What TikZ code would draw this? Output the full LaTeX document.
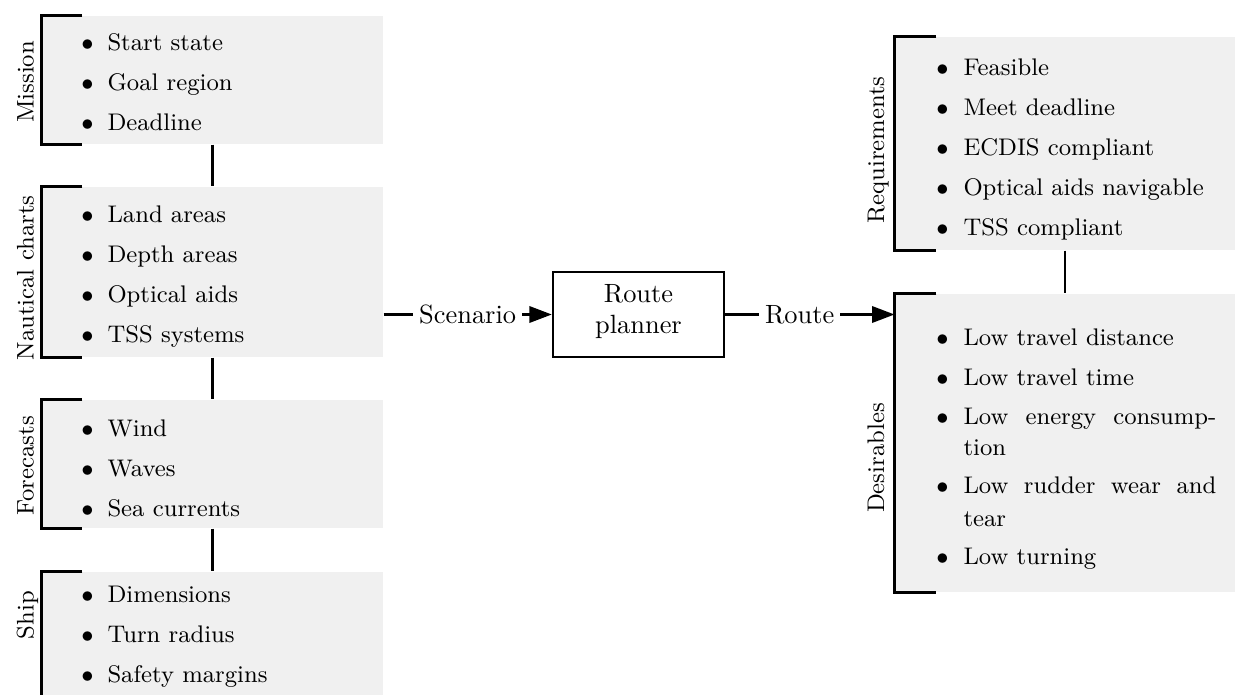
\documentclass[tikz,border=0pt]{standalone}
\usetikzlibrary{arrows.meta,fit,calc}
\definecolor{boxgray}{gray}{0.94}
\begin{document}
\begin{tikzpicture}[x=0.3788pt,y=-0.3788pt,
  box/.style={fill=boxgray, inner sep=0pt, draw=none},
  brk/.style={line width=0.9pt},
  conn/.style={line width=0.9pt},
  arr/.style={line width=0.9pt,-{Triangle[length=8.5pt,width=6.2pt]}},
  side/.style={rotate=90, anchor=base, inner sep=0pt, font=\fontsize{9.1}{12}\selectfont},
  itm/.style={anchor=base west, inner sep=0pt, font=\fontsize{9.1}{12}\selectfont},
  bul/.style={anchor=base, inner sep=0pt, font=\fontsize{9.1}{12}\selectfont},
  plannerbox/.style={draw, line width=0.9pt, minimum width=64.8pt, minimum height=32.2pt, inner sep=0pt},
  ptext/.style={align=center, inner sep=0pt, font=\fontsize{10}{12}\selectfont},
  lbl/.style={fill=white, inner sep=2.3pt, font=\fontsize{10}{12}\selectfont}
]
\useasboundingbox (0,0) rectangle (1235,695);

% ---- left column boxes
\node[box, fit={(42,16) (383,144)}] (mission) {};
\node[box, fit={(42,187) (383,357)}] (naut) {};
\node[box, fit={(42,400) (383,528)}] (fore) {};
\node[box, fit={(42,572) (383,700)}] (ship) {};

% ---- right column boxes
\node[box, fit={(895,37) (1235,250)}] (req) {};
\node[box, fit={(895,294) (1235,592)}] (des) {};

% ---- brackets
\foreach \b in {mission,naut,fore,ship}{
  \draw[brk] ($(\b.north west)+(41,0)$) -- (\b.north west) -- (\b.south west) -- +(41,0);
}
\foreach \b in {req,des}{
  \draw[brk] ($(\b.north west)+(42,0)$) -- (\b.north west) -- (\b.south west) -- +(42,0);
}

% ---- side labels
\node[side] (lmission) at (33.5,82) {Mission};
\node[side] (lnaut) at (33.5,278) {Nautical charts};
\node[side] (lfore) at (33.5,466) {Forecasts};
\node[side] (lship) at (33.5,615) {Ship};
\node[side] (lreq) at (884,150) {Requirements};
\node[side] (ldes) at (884,458) {Desirables};

% ---- connectors between boxes
\draw[conn] (mission.south) -- (naut.north);
\draw[conn] (naut.south) -- (fore.north);
\draw[conn] (fore.south) -- (ship.north);
\draw[conn] (req.south) -- (des.north);

% ---- items
\foreach \t [count=\i] in {Start state,Goal region,Deadline}{
  \node[bul] (mb\i) at (87.5,{50.5+40*(\i-1)}) {$\bullet$};
  \node[itm] (mt\i) at (107,{50.5+40*(\i-1)}) {\t};
}
\foreach \t [count=\i] in {Land areas,Depth areas,Optical aids,TSS systems}{
  \node[bul] (nb\i) at (87.5,{223+40*(\i-1)}) {$\bullet$};
  \node[itm] (nt\i) at (107,{223+40*(\i-1)}) {\t};
}
\foreach \t [count=\i] in {Wind,Waves,Sea currents}{
  \node[bul] (fb\i) at (87.5,{436.5+40*(\i-1)}) {$\bullet$};
  \node[itm] (ft\i) at (107,{436.5+40*(\i-1)}) {\t};
}
\foreach \t [count=\i] in {Dimensions,Turn radius,Safety margins}{
  \node[bul] (sb\i) at (87.5,{602+40*(\i-1)}) {$\bullet$};
  \node[itm] (st\i) at (107,{602+40*(\i-1)}) {\t};
}
\foreach \t [count=\i] in {Feasible,Meet deadline,ECDIS compliant,Optical aids navigable,TSS compliant}{
  \node[bul] (rb\i) at (942.5,{75.5+40*(\i-1)}) {$\bullet$};
  \node[itm] (rt\i) at (963,{75.5+40*(\i-1)}) {\t};
}
\node[bul] (db1) at (942.5,346) {$\bullet$};
\node[itm] (dt1) at (963,346) {Low travel distance};
\node[bul] (db2) at (942.5,386) {$\bullet$};
\node[itm] (dt2) at (963,386) {Low travel time};
\node[bul] (db3) at (942.5,424.5) {$\bullet$};
\node[itm] (dt3) at (963,424.5) {\makebox[95.8pt][s]{Low energy consump-}};
\node[itm] (dt3b) at (963,456) {tion};
\node[bul] (db4) at (942.5,494) {$\bullet$};
\node[itm] (dt4) at (963,494) {\makebox[95.8pt][s]{Low rudder wear and}};
\node[itm] (dt4b) at (963,526) {tear};
\node[bul] (db5) at (942.5,564.5) {$\bullet$};
\node[itm] (dt5) at (963,564.5) {Low turning};

% ---- route planner
\node[plannerbox] (rp) at (638.5,314.5) {};
\node[ptext] (rptxt) at (638.5,311.5) {Route\\planner};

% ---- arrows
\draw[arr] (rp.west -| naut.east) -- node[lbl] (scen) {Scenario} (rp.west);
\draw[arr] (rp.east) -- node[lbl, pos=0.44] (rte) {Route} (des.west |- rp.east);
\end{tikzpicture}
\end{document}
